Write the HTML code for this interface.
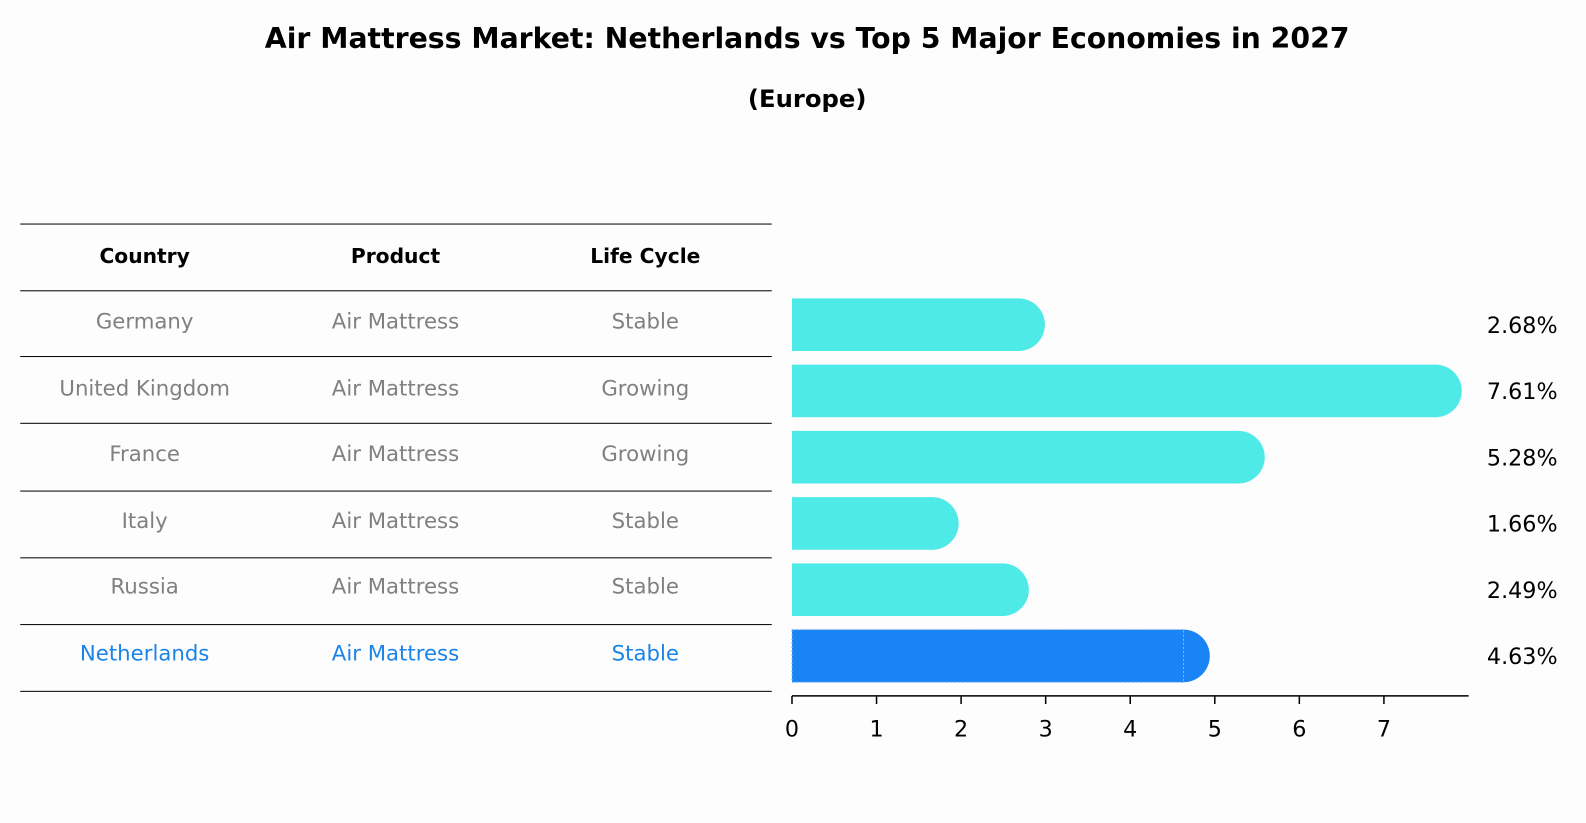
<!DOCTYPE html>
<html><head><meta charset="utf-8">
<style>
body{margin:0;background:#fdfdfd;font-family:"DejaVu Sans","Liberation Sans",sans-serif;}
#outer{width:1586px;height:823px;overflow:hidden;position:relative;}
#wrap{position:absolute;left:0;top:0;width:1568px;height:814px;transform:scale(1.01148);transform-origin:0 0;}
.t{position:absolute;white-space:nowrap;transform:translate(-50%,-50%);}
.hl{position:absolute;left:20px;width:743px;height:1px;background:#000;}
</style></head><body>
<div id="outer">
<div id="wrap">
<div class="t" style="left:798px;top:38px;font-size:28px;font-weight:bold;">Air Mattress Market: Netherlands vs Top 5 Major Economies in 2027</div>
<div class="t" style="left:798px;top:98px;font-size:24px;font-weight:bold;">(Europe)</div>
<div id="table"></div>
<svg id="svg" width="1568" height="814" style="position:absolute;left:0;top:0"></svg>
</div></div>
<script>
const countries=["Germany","United Kingdom","France","Italy","Russia","Netherlands"];
const products=["Air Mattress","Air Mattress","Air Mattress","Air Mattress","Air Mattress","Air Mattress"];
const lifeCycles=["Stable","Growing","Growing","Stable","Stable","Stable"];
const values=[2.68,7.61,5.28,1.66,2.49,4.63];
const ticks=[0,1,2,3,4,5,6,7];

const tbl=document.getElementById('table');
const lines=[221,287,352,418,485,551,617,683];
lines.forEach((y,i)=>{const d=document.createElement('div');d.className='hl';d.style.top=y+'px';


tbl.appendChild(d);});
const cols=[143,391,638];
["Country","Product","Life Cycle"].forEach((h,i)=>{const d=document.createElement('div');d.className='t';
d.style.cssText=`left:${cols[i]}px;top:253px;font-size:20px;font-weight:bold;`;d.textContent=h;


tbl.appendChild(d);});
const rowY=i=>320+i*65.5;
countries.forEach((c,i)=>{[c,products[i],lifeCycles[i]].forEach((v,j)=>{const d=document.createElement('div');d.className='t';
const col=c==="Netherlands"?"#1a84e8":"#808080";
d.style.cssText=`left:${cols[j]}px;top:${rowY(i)-2}px;font-size:21px;color:${col};`;d.textContent=v;


tbl.appendChild(d);});});

const svg=document.getElementById('svg');const NS='http://www.w3.org/2000/svg';
const x0=783,unit=83.6;const xs=v=>x0+v*unit;const bh=52;
const FF='DejaVu Sans, Liberation Sans, sans-serif';
function el(n,a){const e=document.createElementNS(NS,n);for(const k in a)e.setAttribute(k,a[k]);svg.appendChild(e);return e;}
values.forEach((v,i)=>{const cy=rowY(i)+1;const nl=countries[i]==="Netherlands";const col=nl?"#1a84f5":"#4deae8";
const c=el('circle',{cx:xs(v),cy:cy,r:bh/2,fill:col});


const r=el('rect',{x:x0,y:cy-bh/2,width:xs(v)-x0,height:bh,fill:col});
if(nl){r.setAttribute('stroke','#7fb8f5');r.setAttribute('stroke-dasharray','2,2');r.setAttribute('stroke-width','1');}


const t=el('text',{x:1505,y:cy+8,'text-anchor':'middle','font-size':22,fill:'#000','font-family':FF});
t.textContent=v.toFixed(2)+'%';


});
const ax=el('line',{x1:x0,x2:1452,y1:688,y2:688,stroke:'#000','stroke-width':1.5});


ticks.forEach(t=>{const l=el('line',{x1:xs(t),x2:xs(t),y1:688,y2:696,stroke:'#000','stroke-width':1.5});


const tx=el('text',{x:xs(t),y:728,'text-anchor':'middle','font-size':22,'font-family':FF});
tx.textContent=t;


});
</script>
</body></html>
